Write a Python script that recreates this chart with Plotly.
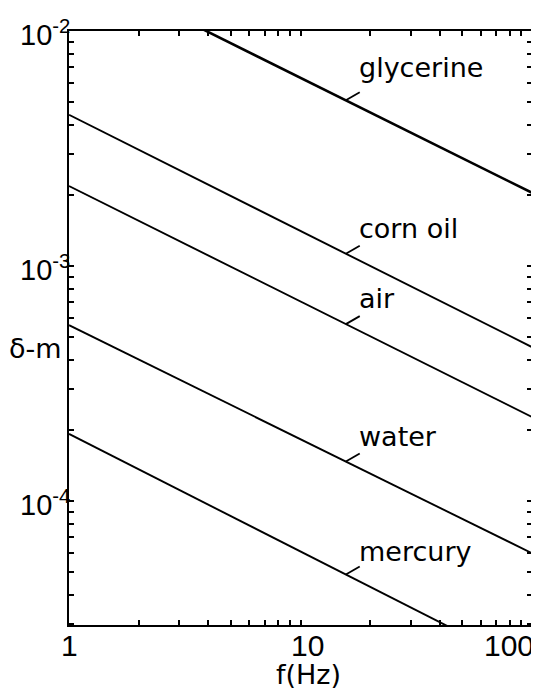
import numpy as np
import plotly.graph_objects as go

# ---- data ----
freq = [1, 100]                      # f (Hz) at line ends
glycerine = [1.95e-2, 2.05e-3]       # delta (m)
corn_oil = [4.40e-3, 4.52e-4]
air = [2.19e-3, 2.28e-4]
water = [5.60e-4, 6.00e-5]
mercury = [1.93e-4, 1.93e-5]
series_names = ["glycerine", "corn oil", "air", "water", "mercury"]
series_vals = [glycerine, corn_oil, air, water, mercury]
line_widths = [2.6, 1.9, 1.9, 1.9, 1.9]
label_yshift = [7, 0, 0, 0, -2]
label_freq = 15.7                    # where the label leaders touch the lines

x_tick_vals = [1, 10, 100]
x_tick_labels = ["1", "10", "100"]
y_tick_vals = [1e-2, 1e-3, 1e-4]
y_tick_labels = ["10<sup>-2</sup>", "10<sup>-3</sup>", "10<sup>-4</sup>"]

FONT = "DejaVu Sans"
NUMFONT = "Liberation Sans"
# page body has an 8px margin, so the figure is sized to fit the window after it
W, H = 531, 683
ML, MR, MT, MB = 61, 5, 23, 66

fig = go.Figure()

for name, vals, lw in zip(series_names, series_vals, line_widths):
    fig.add_trace(go.Scatter(x=freq, y=vals, mode="lines",
                             line=dict(color="black", width=lw),
                             showlegend=False, hoverinfo="skip", cliponaxis=True))

# leaders + labels
LDX, LDY = 0.060, 0.034   # leader extent in decades
for name, vals, ys in zip(series_names, series_vals, label_yshift):
    lx = np.log10(label_freq)
    ly = np.interp(lx, np.log10(freq), np.log10(vals))
    fig.add_trace(go.Scatter(x=[10 ** lx, 10 ** (lx + LDX)], y=[10 ** ly, 10 ** (ly + LDY)],
                             mode="lines", line=dict(color="black", width=1.8),
                             showlegend=False, hoverinfo="skip"))
    fig.add_annotation(x=lx + LDX, y=ly + LDY, xref="x", yref="y", text=name,
                       showarrow=False, xanchor="left", yanchor="bottom",
                       xshift=-3, yshift=ys,
                       font=dict(family=FONT, size=27, color="black"))

# minor/major tick positions
xt = [m * 10 ** e for e in range(0, 2) for m in range(1, 10)] + [100]
yt = [m * 10 ** e for e in range(-5, -2) for m in range(1, 10)] + [1e-2]
yt = [v for v in yt if v >= 3e-5]

axis_common = dict(type="log", showgrid=False, zeroline=False, showline=True,
                   linecolor="black", linewidth=2, mirror="ticks", ticks="inside",
                   ticklen=5, tickwidth=1.6, tickcolor="black", showticklabels=False)
fig.update_xaxes(range=[0, 2.0], tickvals=xt, **axis_common)
fig.update_yaxes(range=[np.log10(2.97e-5), -2], tickvals=yt, **axis_common)

# tick labels as annotations
x_shifts = {"1": 0, "10": 7, "100": 4}
for v, t in zip(x_tick_vals, x_tick_labels):
    xa = "right" if t == "100" else "center"
    fig.add_annotation(x=np.log10(v), y=0, xref="x", yref="paper", text=t,
                       showarrow=False, xanchor=xa, yanchor="top", xshift=x_shifts[t], yshift=-2,
                       font=dict(family=NUMFONT, size=30, color="black"))
for v, t in zip(y_tick_vals, y_tick_labels):
    fig.add_annotation(x=0, y=np.log10(v), xref="paper", yref="y", text=t,
                       showarrow=False, xanchor="right", yanchor="middle", xshift=3, yshift=-2,
                       font=dict(family=NUMFONT, size=29, color="black"))

fig.add_annotation(x=0, y=-3.35, xref="paper", yref="y", text="δ-m", showarrow=False,
                   xanchor="right", yanchor="middle", xshift=-5,
                   font=dict(family=FONT, size=27, color="black"))
fig.add_annotation(x=0.518, y=0, xref="paper", yref="paper", text="f(Hz)", showarrow=False,
                   xanchor="center", yanchor="top", yshift=-32,
                   font=dict(family=FONT, size=27, color="black"))

fig.update_layout(width=W, height=H, autosize=False,
                  margin=dict(l=ML, r=MR, t=MT, b=MB),
                  paper_bgcolor="white", plot_bgcolor="white")

fig.write_html("out.html")
